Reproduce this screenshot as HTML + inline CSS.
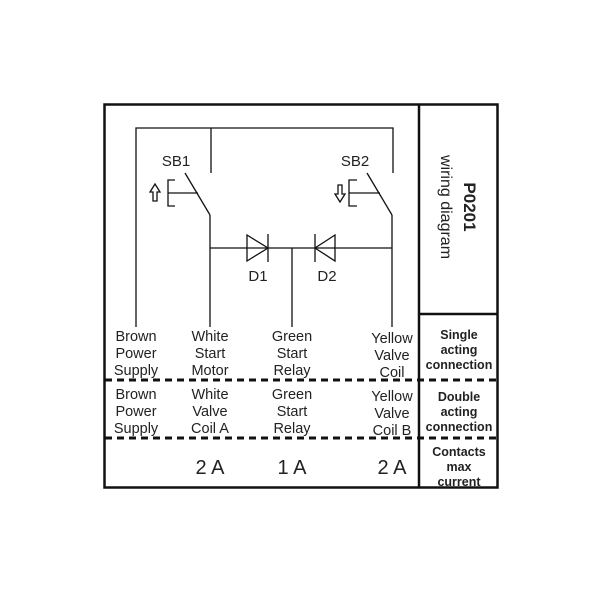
<!DOCTYPE html>
<html><head><style>
body{margin:0;background:#fff;}
svg text{font-family:"Liberation Sans",Arial,sans-serif;fill:#222;}
</style></head><body>
<svg width="600" height="590" viewBox="0 0 600 590" xmlns="http://www.w3.org/2000/svg">
<rect x="104.5" y="104.5" width="393" height="383" fill="none" stroke="#111" stroke-width="2.5"/>
<line x1="419" y1="104" x2="419" y2="488" stroke="#111" stroke-width="2.5"/>
<line x1="419" y1="314" x2="498" y2="314" stroke="#111" stroke-width="2.5"/>
<g stroke="#111" stroke-width="3" stroke-dasharray="7,5">
<line x1="105" y1="380" x2="498" y2="380"/>
<line x1="105" y1="438" x2="498" y2="438"/>
</g>
<g stroke="#111" stroke-width="1.3" fill="none">
<polyline points="136,327 136,128 393,128 393,173"/>
<line x1="211" y1="128" x2="211" y2="173"/>
<line x1="185" y1="173" x2="210" y2="215"/>
<line x1="210" y1="215" x2="210" y2="327"/>
<polyline points="175,180 168,180 168,206 175,206"/>
<line x1="168" y1="193" x2="198" y2="193"/>
<line x1="367" y1="173" x2="392" y2="215"/>
<line x1="392" y1="215" x2="392" y2="327"/>
<polyline points="357,180 349,180 349,206 357,206"/>
<line x1="349" y1="193" x2="380" y2="193"/>
<line x1="210" y1="248" x2="392" y2="248"/>
<line x1="292" y1="248" x2="292" y2="327"/>
<polygon points="247,235 268,248 247,261"/>
<line x1="268" y1="234" x2="268" y2="262"/>
<polygon points="335,235 315,248 335,261"/>
<line x1="315" y1="234" x2="315" y2="262"/>
<polygon points="155,184 150,192 153,192 153,201 157,201 157,192 160,192"/>
<polygon points="340,202 335,194 338,194 338,185 342,185 342,194 345,194"/>
</g>
<g font-size="15" text-anchor="middle">
<text x="176" y="166">SB1</text>
<text x="355" y="166">SB2</text>
<text x="258" y="281">D1</text>
<text x="327" y="281">D2</text>
</g>
<g font-size="14.5" text-anchor="middle" fill="#333">
<text x="136" y="341">Brown</text><text x="136" y="358">Power</text><text x="136" y="375">Supply</text>
<text x="210" y="341">White</text><text x="210" y="358">Start</text><text x="210" y="375">Motor</text>
<text x="292" y="341">Green</text><text x="292" y="358">Start</text><text x="292" y="375">Relay</text>
<text x="392" y="343">Yellow</text><text x="392" y="360">Valve</text><text x="392" y="377">Coil</text>
<text x="136" y="399">Brown</text><text x="136" y="416">Power</text><text x="136" y="433">Supply</text>
<text x="210" y="399">White</text><text x="210" y="416">Valve</text><text x="210" y="433">Coil A</text>
<text x="292" y="399">Green</text><text x="292" y="416">Start</text><text x="292" y="433">Relay</text>
<text x="392" y="401">Yellow</text><text x="392" y="418">Valve</text><text x="392" y="435">Coil B</text>
</g>
<g font-size="20" text-anchor="middle">
<text x="210" y="474">2 A</text><text x="292" y="474">1 A</text><text x="392" y="474">2 A</text>
</g>
<g font-size="12.5" font-weight="bold" text-anchor="middle">
<text x="459" y="339">Single</text><text x="459" y="354">acting</text><text x="459" y="369">connection</text>
<text x="459" y="401">Double</text><text x="459" y="416">acting</text><text x="459" y="431">connection</text>
<text x="459" y="456">Contacts</text><text x="459" y="471">max</text><text x="459" y="486">current</text>
</g>
<text transform="translate(464,207) rotate(90)" font-size="17" font-weight="bold" text-anchor="middle">P0201</text>
<text transform="translate(441,207) rotate(90)" font-size="16" text-anchor="middle">wiring diagram</text>
</svg>
</body></html>
